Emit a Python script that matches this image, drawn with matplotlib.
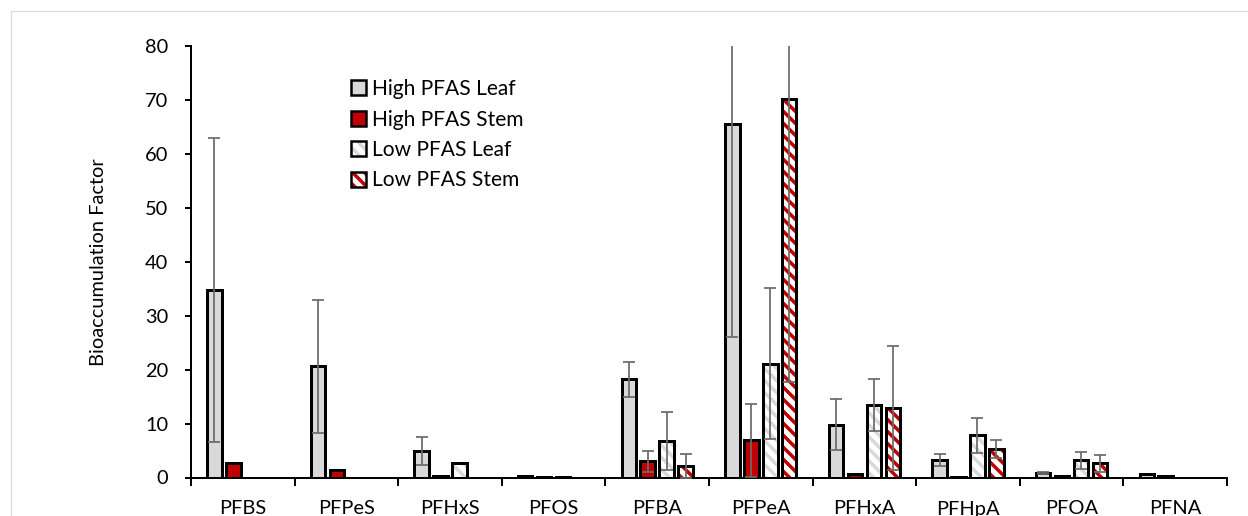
import numpy as np
import matplotlib
matplotlib.use("Agg")
import matplotlib.pyplot as plt
from matplotlib.patches import Patch, Rectangle
from matplotlib.legend_handler import HandlerTuple

nan = np.nan
categories = ['PFBS', 'PFPeS', 'PFHxS', 'PFOS', 'PFBA', 'PFPeA', 'PFHxA', 'PFHpA', 'PFOA', 'PFNA']
high_leaf = [34.7, 20.6, 4.9, 0.3, 18.2, 65.6, 9.8, 3.3, 0.9, 0.7]
high_leaf_err = [28.2, 12.3, 2.6, nan, 3.3, 39.6, 4.7, 1.1, 0.2, nan]
high_stem = [2.7, 1.3, 0.35, 0.15, 3.0, 6.9, 0.7, 0.1, 0.2, 0.2]
high_stem_err = [nan, nan, nan, nan, 1.9, 6.8, nan, nan, nan, nan]
low_leaf = [nan, nan, 2.7, 0.15, 6.7, 21.1, 13.5, 7.8, 3.2, nan]
low_leaf_err = [nan, nan, nan, nan, 5.4, 14.0, 4.8, 3.3, 1.6, nan]
low_stem = [nan, nan, nan, nan, 2.2, 70.1, 12.8, 5.3, 2.6, nan]
low_stem_err = [nan, nan, nan, nan, 2.2, 52.4, 11.5, 1.6, 1.6, nan]
series_names = ['High PFAS Leaf', 'High PFAS Stem', 'Low PFAS Leaf', 'Low PFAS Stem']
yticks = [0, 10, 20, 30, 40, 50, 60, 70, 80]

plt.rcParams['font.family'] = ['Lato', 'DejaVu Sans']
plt.rcParams['hatch.linewidth'] = 3.5
FS = 20
LFS = 21

W, H, DPI = 1248, 516, 72
fig = plt.figure(figsize=(W / DPI, H / DPI), dpi=DPI)
ax = fig.add_axes([191 / W, 38.5 / H, 1036 / W, 431.5 / H])

# light gray chart border
fig.patches.append(Rectangle((11 / W, -0.1), 1.5, (H - 11) / H + 0.1, transform=fig.transFigure,
                             fill=False, edgecolor='#d9d9d9', linewidth=1.2))

x = np.arange(len(categories))
slot = 0.183
bw = 0.14
offs = [-1.5 * slot, -0.5 * slot, 0.5 * slot, 1.5 * slot]
GRAY = '#d9d9d9'
RED = '#c00000'
ECOL = '#6b6b6b'
HATCH = '\\\\'

data = [(high_leaf, high_leaf_err), (high_stem, high_stem_err),
        (low_leaf, low_leaf_err), (low_stem, low_stem_err)]
fills = [dict(color=GRAY, hatch=None), dict(color=RED, hatch=None),
         dict(color=GRAY, hatch=HATCH), dict(color=RED, hatch=HATCH)]

for (vals, errs), f, o in zip(data, fills, offs):
    v = np.array(vals, dtype=float)
    if f['hatch'] is None:
        ax.bar(x + o, v, width=bw, facecolor=f['color'], edgecolor='black', linewidth=3, zorder=2)
    else:
        ax.bar(x + o, v, width=bw, facecolor='white', edgecolor=f['color'], linewidth=0,
               hatch=f['hatch'], zorder=2)
        ax.bar(x + o, v, width=bw, fill=False, edgecolor='black', linewidth=3, zorder=3)
    ax.errorbar(x + o, v, yerr=np.array(errs, dtype=float), fmt='none', ecolor=ECOL,
                elinewidth=1.75, capsize=6, capthick=1.75, zorder=4)

ax.set_xlim(-0.5, 9.5)
ax.set_ylim(0, 80)
ax.set_yticks(yticks)
ax.set_yticklabels([str(t) for t in yticks], fontsize=FS)
ax.set_xticks(np.arange(-0.5, 10, 1))
ax.set_xticklabels([])
ax.set_xticks(x, minor=True)
ax.set_xticklabels(categories, minor=True, fontsize=FS)
ax.tick_params(axis='x', which='major', length=8, width=2, direction='out')
ax.tick_params(axis='x', which='minor', length=0, pad=23)
ax.tick_params(axis='y', length=6, width=2, direction='out', pad=17)
for s in ['top', 'right']:
    ax.spines[s].set_visible(False)
for s in ['left', 'bottom']:
    ax.spines[s].set_linewidth(2)
    ax.spines[s].set_color('black')
ax.set_ylabel('Bioaccumulation Factor', fontsize=FS, labelpad=38)

handles = [
    Patch(facecolor=GRAY, edgecolor='black', linewidth=2.5),
    Patch(facecolor=RED, edgecolor='black', linewidth=2.5),
    (Patch(facecolor='white', edgecolor=GRAY, linewidth=0, hatch=HATCH),
     Patch(fill=False, edgecolor='black', linewidth=2.5)),
    (Patch(facecolor='white', edgecolor=RED, linewidth=0, hatch=HATCH),
     Patch(fill=False, edgecolor='black', linewidth=2.5)),
]
ax.legend(handles, series_names, loc='upper left', bbox_to_anchor=(351 / W, 1 - 79 / H),
          bbox_transform=fig.transFigure, frameon=False, fontsize=LFS, handlelength=0.72,
          handleheight=0.72, handletextpad=0.3, labelspacing=0.5, borderpad=0, borderaxespad=0,
          handler_map={tuple: HandlerTuple(ndivide=1)})

fig.savefig('out.png', dpi=DPI)
